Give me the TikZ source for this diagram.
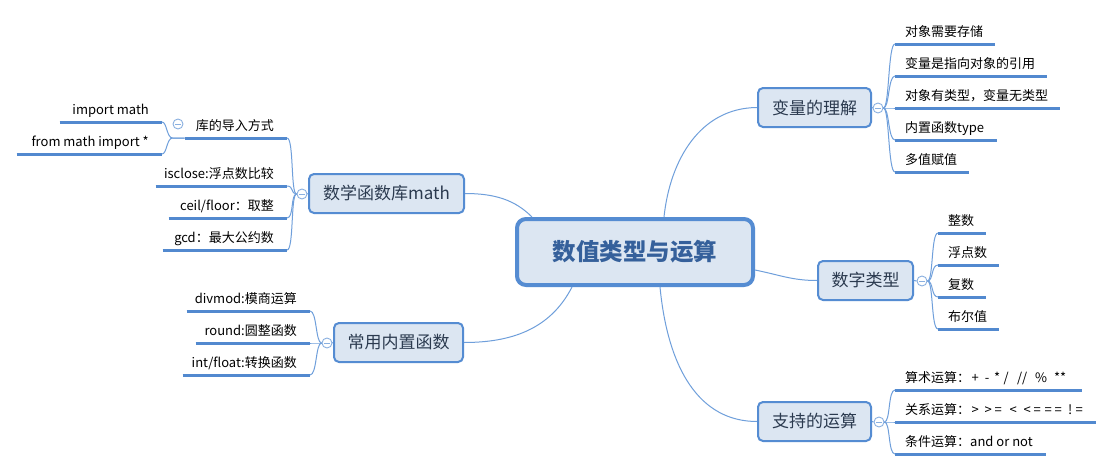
\documentclass[tikz,border=0pt]{standalone}
\usepackage{fontspec}
\setmainfont{Noto Sans CJK SC}
\usetikzlibrary{calc}
\definecolor{bcol}{HTML}{558CD2}
\definecolor{fcol}{HTML}{DCE6F2}
\definecolor{ucol}{HTML}{5289CF}
\definecolor{lcol}{HTML}{6F9FDB}
\definecolor{ccol}{HTML}{8AB0E0}
\definecolor{btext}{HTML}{2B3A4F}
\definecolor{ctext}{HTML}{35609B}
\newcommand{\leaffont}{\fontsize{13}{15}\selectfont}
\newcommand{\branchfont}{\fontsize{17}{20}\selectfont}
\newcommand{\leafr}[2]{\makebox[\dimexpr#1pt-20pt\relax][l]{#2}}
\newcommand{\leafl}[2]{\makebox[\dimexpr#1pt-26pt\relax][r]{#2}}
\newcommand{\sy}[2][10pt]{\makebox[#1]{#2}}
\tikzset{
 leafR/.style={anchor=south west, inner xsep=10pt, inner ysep=0pt, minimum height=24pt, text height=11pt, text depth=2pt, font=\leaffont, text=black},
 leafL/.style={leafR, anchor=south east, inner xsep=13pt},
 branch/.style={draw=bcol, fill=fcol, line width=2pt, rounded corners=5pt, minimum height=39pt, inner sep=0pt, font=\branchfont, text=btext},
 hub/.style={circle, draw=ccol, fill=white, line width=0.9pt, minimum size=10pt, inner sep=0pt, path picture={\draw[ccol, line width=0.9pt] ([xshift=-3pt]path picture bounding box.center) -- ([xshift=3pt]path picture bounding box.center);}},
 conn/.style={draw=lcol, line width=1pt},
 uline/.style={draw=ucol, line width=3pt},
}
\begin{document}
\begin{tikzpicture}[x=1pt,y=-1pt]
\useasboundingbox[fill=white] (0,0) rectangle (1114,471);

% central node
\node[draw=bcol, fill=fcol, line width=4pt, rounded corners=9pt, minimum width=236pt, minimum height=66pt, inner sep=0pt, text=ctext, font=\fontsize{23.5}{28}\selectfont\bfseries] (c0) at (635,252) {数值类型与运算};

% branch nodes
\node[branch, minimum width=113pt] (v) at (814.5,107.5) {变量的理解};
\node[branch, minimum width=95pt] (n) at (865.5,280.5) {数字类型};
\node[branch, minimum width=113pt] (s) at (814.5,421.5) {支持的运算};
\node[branch, minimum width=155pt] (m) at (386.5,193.5) {数学函数库math};
\node[branch, minimum width=129pt] (c) at (398.5,342.5) {常用内置函数};

% main connectors
\draw[conn] ([xshift=29pt]c0.north) .. controls (670,160) and (700,108) .. (v.west);
\draw[conn] ([yshift=-18pt]c0.east) .. controls (780,275) and (792,280.5) .. (n.west);
\draw[conn] ([xshift=25pt]c0.south) .. controls (668,370) and (700,421.5) .. (s.west);
\draw[conn] ([xshift=-103pt]c0.north) .. controls (515,200) and (495,193.5) .. (m.east);
\draw[conn] ([xshift=-63pt]c0.south) .. controls (550,330) and (510,342.5) .. (c.east);

% leaves right
\node[leafR] (v1) at (895,44) {\leafr{100}{对象需要存储}};
\node[leafR] (v2) at (895,76) {\leafr{152}{变量是指向对象的引用}};
\node[leafR] (v3) at (895,108) {\leafr{165}{对象有类型，变量无类型}};
\node[leafR] (v4) at (895,140) {\leafr{102}{内置函数type}};
\node[leafR] (v5) at (895,172) {\leafr{74}{多值赋值}};
\node[leafR] (n1) at (938,233) {\leafr{48}{整数}};
\node[leafR] (n2) at (938,265) {\leafr{61}{浮点数}};
\node[leafR] (n3) at (938,297) {\leafr{48}{复数}};
\node[leafR] (n4) at (938,329) {\leafr{61}{布尔值}};
\node[leafR] (s1) at (895,390) {\leafr{187}{算术运算：\sy{+}\hspace{2pt}\sy{-}\sy{*}\sy[8pt]{/}\hspace{6pt}\sy[12pt]{//}\hspace{8pt}\sy{\%}\hspace{8pt}\sy[12pt]{**}}};
\node[leafR] (s2) at (895,422) {\leafr{201}{关系运算：\sy{>}\hspace{3pt}\sy{>}\sy{=}\hspace{5pt}\sy{<}\hspace{4pt}\sy{<}\sy{=}\hspace{1pt}\sy{=}\sy{=}\hspace{3pt}\sy[8pt]{!}\sy{=}}};
\node[leafR] (s3) at (895,454) {\leafr{151}{条件运算：and or not}};

% leaves left
\node[leafL] (i0) at (287,138) {\leafl{102}{库的导入方式}};
\node[leafL] (m2) at (287,186) {\leafl{131}{isclose:浮点数比较}};
\node[leafL] (m3) at (287,218) {\leafl{118}{ceil/floor：取整}};
\node[leafL] (m4) at (287,250) {\leafl{124}{gcd：最大公约数}};
\node[leafL] (i1) at (162,122) {\leafl{102}{import math}};
\node[leafL] (i2) at (162,154) {\leafl{145}{from math import *}};
\node[leafL] (c1) at (310,311) {\leafl{123}{divmod:模商运算}};
\node[leafL] (c2) at (310,343) {\leafl{114}{round:圆整函数}};
\node[leafL] (c3) at (310,375) {\leafl{127}{int/float:转换函数}};

% hubs
\node[hub] (vc) at (878,108) {};
\node[hub] (nc) at (922,281) {};
\node[hub] (sc) at (879,422) {};
\node[hub] (mc) at (302,194) {};
\node[hub] (cc) at (327,343) {};

% hub links
\draw[conn] (v.east) -- (vc.west);
\draw[conn] (n.east) -- (nc.west);
\draw[conn] (s.east) -- (sc.west);
\draw[conn] (m.west) -- (mc.east);
\draw[conn] (c.west) -- (cc.east);

\foreach \l in {v1,v2,v3,v4,v5}
  \draw[conn] (vc.east) .. controls +(6,0) and +(-7,0) .. (\l.south west);
\foreach \l in {n1,n2,n3,n4}
  \draw[conn] (nc.east) .. controls +(6,0) and +(-7,0) .. (\l.south west);
\foreach \l in {s1,s2,s3}
  \draw[conn] (sc.east) .. controls +(6,0) and +(-7,0) .. (\l.south west);
\foreach \l in {i0,m2,m3,m4}
  \draw[conn] (mc.west) .. controls +(-6,0) and +(7,0) .. (\l.south east);
\foreach \l in {c1,c2,c3}
  \draw[conn] (cc.west) .. controls +(-6,0) and +(7,0) .. (\l.south east);
\foreach \l in {i1,i2}
  \draw[conn] (i0.south west) -- ++(-12,0) .. controls +(-6,0) and +(5,0) .. (\l.south east);

% underlines
\foreach \l in {v1,v2,v3,v4,v5,n1,n2,n3,n4,s1,s2,s3,i0,m2,m3,m4,i1,i2,c1,c2,c3}
  \draw[uline] (\l.south west) -- (\l.south east);

\node[hub] (ic) at (178,124) {};
\end{tikzpicture}
\end{document}
